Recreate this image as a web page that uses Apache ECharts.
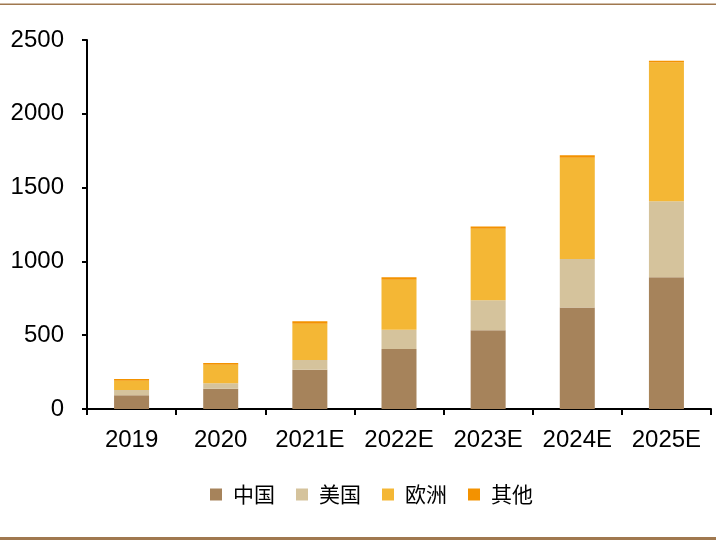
<!DOCTYPE html>
<html>
<head>
<meta charset="utf-8">
<script src="https://cdn.jsdelivr.net/npm/echarts@6/dist/echarts.min.js"></script>
<style>html,body{margin:0;padding:0;background:#fff}#c{width:716px;height:543px}</style>
</head>
<body>
<div id="c"></div>
<script>
const categories = ['2019', '2020', '2021E', '2022E', '2023E', '2024E', '2025E'];
const seriesNames = ['中国', '美国', '欧洲', '其他'];
const china = [93, 137, 266, 406, 533, 688, 892];
const usa = [36, 37, 66, 131, 203, 328, 516];
const europe = [63, 126, 246, 339, 486, 686, 940];
const other = [12, 12, 16, 16, 14, 18, 12];
const yTicks = { min: 0, max: 2500, interval: 500 };

const colors = ['#A6835B', '#D5C39C', '#F4B735', '#F39200'];
const values = [china, usa, europe, other];

const chart = echarts.init(document.getElementById('c'), null, { renderer: 'canvas' });
chart.setOption({
  animation: false,
  backgroundColor: '#fff',
  color: colors,
  grid: { left: 87, right: 5, top: 40, bottom: 134, containLabel: false },
  legend: {
    data: seriesNames,
    left: 205,
    top: 479,
    itemWidth: 12,
    itemHeight: 12,
    itemGap: 21,
    icon: 'rect',
    textStyle: { fontFamily: 'Noto Sans CJK SC', fontSize: 21, color: '#000', padding: [0, 0, 0, 6] }
  },
  xAxis: {
    type: 'category',
    data: categories,
    axisLine: { lineStyle: { color: '#000', width: 2 } },
    axisTick: { show: true, interval: 0, length: 6, lineStyle: { color: '#000', width: 2 } },
    axisLabel: { color: '#000', fontFamily: 'Liberation Sans', fontSize: 24, margin: 19, interval: 0, hideOverlap: false }
  },
  yAxis: {
    type: 'value',
    min: yTicks.min, max: yTicks.max, interval: yTicks.interval,
    splitLine: { show: false },
    axisLine: { show: true, lineStyle: { color: '#000', width: 2 } },
    axisTick: { show: true, length: 5, lineStyle: { color: '#000', width: 2 } },
    axisLabel: { color: '#000', fontFamily: 'Liberation Sans', fontSize: 24, margin: 23, padding: [10, 0, 0, 0], formatter: v => String(v) }
  },
  series: seriesNames.map((n, i) => ({
    name: n,
    type: 'bar',
    stack: 'total',
    barWidth: 35,
    data: values[i],
    itemStyle: { color: colors[i] }
  })),
  graphic: [
    { type: 'rect', shape: { x: 0, y: 3.5, width: 716, height: 1.5 }, style: { fill: '#A0784F' }, silent: true },
    { type: 'rect', shape: { x: 0, y: 537, width: 716, height: 3 }, style: { fill: '#A0784F' }, silent: true }
  ]
});
</script>
</body>
</html>
